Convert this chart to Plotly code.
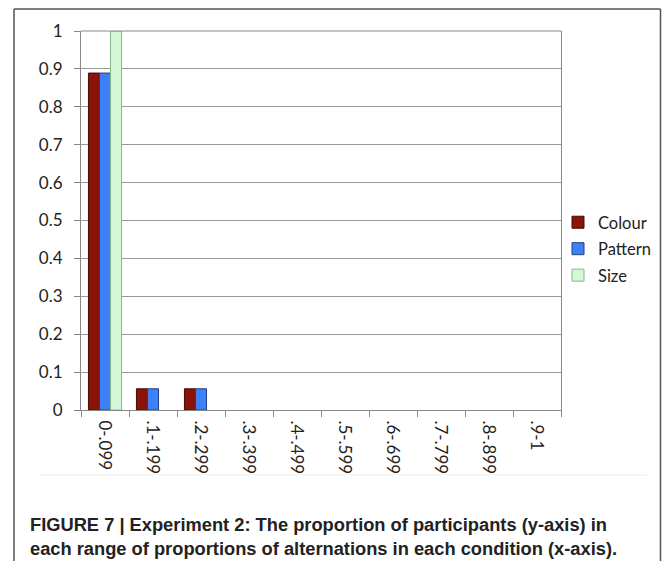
import plotly.graph_objects as go

categories = ["0-.099", ".1-.199", ".2-.299", ".3-.399", ".4-.499",
              ".5-.599", ".6-.699", ".7-.799", ".8-.899", ".9-1"]
colour = [0.889, 0.056, 0.056, 0, 0, 0, 0, 0, 0, 0]
pattern = [0.889, 0.056, 0.056, 0, 0, 0, 0, 0, 0, 0]
size = [1.0, 0, 0, 0, 0, 0, 0, 0, 0, 0]
y_ticks = [0, 0.1, 0.2, 0.3, 0.4, 0.5, 0.6, 0.7, 0.8, 0.9, 1]
y_ticktext = ["0", "0.1", "0.2", "0.3", "0.4", "0.5", "0.6", "0.7", "0.8", "0.9", "1"]
caption = ("FIGURE 7 | Experiment 2: The proportion of participants (y-axis) in<br>"
           "each range of proportions of alternations in each condition (x-axis).")

# page body has an 8px margin: work in reference pixels and shift by OFF
OFF = 8
W, H = 670 - OFF, 561 - OFF
L, R, T, B = 81, 561, 31, 410   # reference pixel positions of plot area
pw, ph = R - L, B - T

def px(x):
    return (x - L) / pw

def py(y):
    return (B - y) / ph

fig = go.Figure()
series = [("Colour", colour, "#8b1408", "#4a0a04"),
          ("Pattern", pattern, "#3f80fa", "#1f3f80"),
          ("Size", size, "#d5f7d5", "#86b886")]
for name, vals, col, lcol in series:
    fig.add_trace(go.Bar(name=name, x=categories, y=vals,
                         marker=dict(color=col,
                                     line=dict(color=lcol,
                                               width=[1 if v > 0 else 0 for v in vals])),
                         legendgroup=name))

tick_family = "Lato, Carlito, Liberation Sans"
font_y = dict(family=tick_family, size=17, color="#222")
font_x = dict(family=tick_family, size=17, color="#222")

fig.update_layout(
    width=W, height=H,
    margin=dict(l=L - OFF, r=(W + OFF) - R, t=T - OFF, b=(H + OFF) - B),
    paper_bgcolor="white", plot_bgcolor="white",
    barmode="group", bargap=0.31, bargroupgap=0,
    showlegend=True,
    legend=dict(x=px(558), y=py(205), xanchor="left", yanchor="top",
                font=dict(family=tick_family, size=16.5, color="#222"),
                tracegroupgap=2, bgcolor="rgba(0,0,0,0)", itemwidth=30),
    xaxis=dict(type="category", tickangle=90, tickfont=font_x,
               showline=True, linecolor="#888", linewidth=1,
               ticks="outside", ticklen=6, tickcolor="#888", tickson="boundaries",
               ticklabelstandoff=6,
               showgrid=False, mirror=False, fixedrange=True),
    yaxis=dict(range=[0, 1], tickvals=y_ticks, ticktext=y_ticktext, tickfont=font_y,
               showline=True, linecolor="#888", linewidth=1, mirror=True,
               ticks="outside", ticklen=6, tickcolor="#888", ticklabelstandoff=8,
               gridcolor="#9a9a9a", gridwidth=1, zeroline=False, fixedrange=True),
)

RIGHT = 660.5  # last visible column of the page
shapes = [
    dict(type="line", xref="paper", yref="paper", x0=px(14), x1=px(14), y0=py(9), y1=py(570),
         line=dict(color="#555", width=1.5)),
    dict(type="line", xref="paper", yref="paper", x0=px(14), x1=px(RIGHT), y0=py(9), y1=py(9),
         line=dict(color="#555", width=1.5)),
    dict(type="line", xref="paper", yref="paper", x0=px(RIGHT), x1=px(RIGHT), y0=py(9), y1=py(570),
         line=dict(color="#555", width=1.5)),
    dict(type="line", xref="paper", yref="paper", x0=px(40), x1=px(647), y0=py(475), y1=py(475),
         line=dict(color="#ececec", width=1)),
    dict(type="line", xref="paper", yref="paper", x0=0, x1=1, y0=1, y1=1,
         line=dict(color="#888", width=1)),
]
fig.update_layout(shapes=shapes)

fig.add_annotation(text="<b>" + caption + "</b>", xref="paper", yref="paper",
                   x=px(28), y=py(512), xanchor="left", yanchor="top", showarrow=False,
                   align="left",
                   font=dict(family="Liberation Sans Narrow, Liberation Sans", size=18.3, color="#222"))

fig.write_html("out.html")
